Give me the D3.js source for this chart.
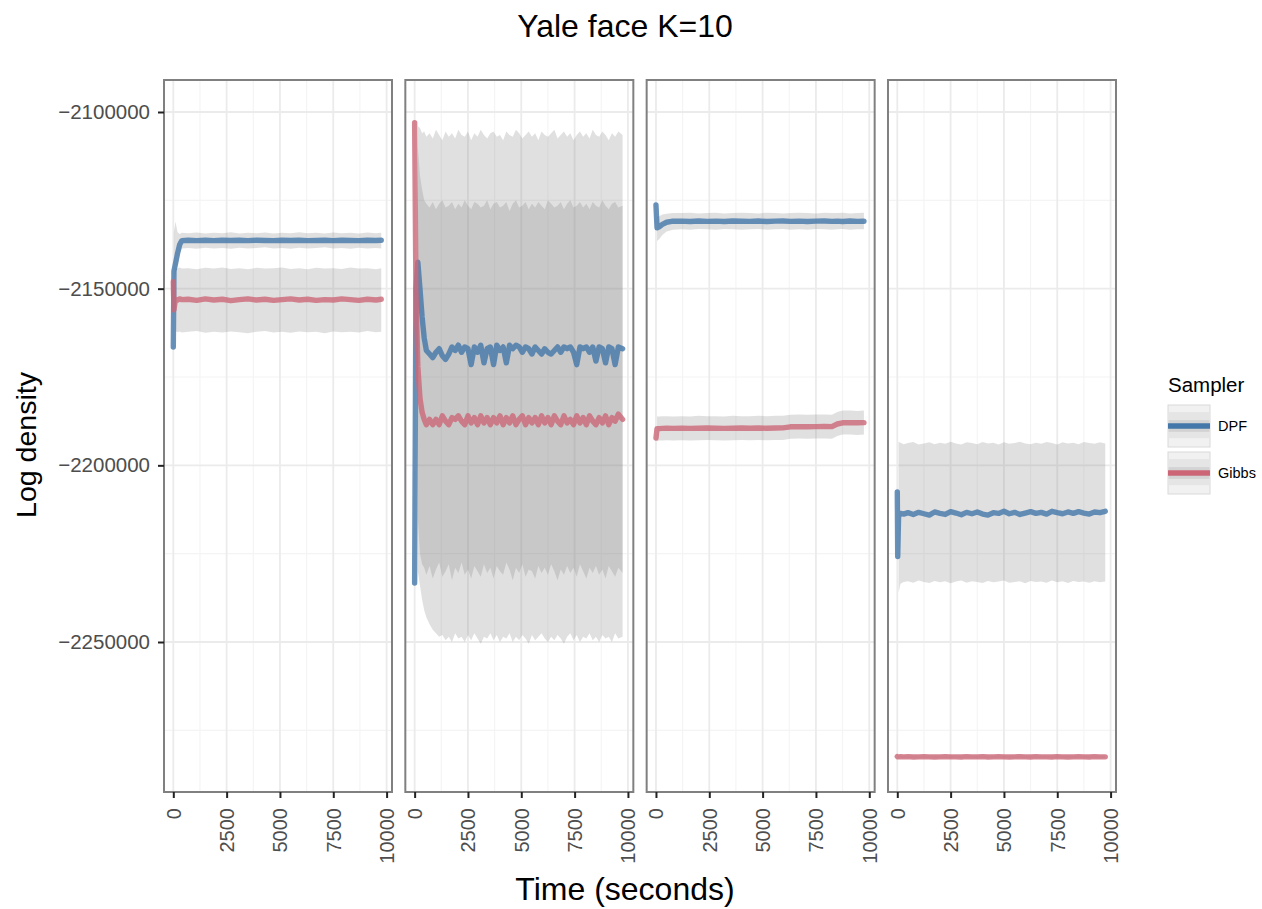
<!DOCTYPE html>
<html>
<head>
<meta charset="utf-8">
<script src="https://cdn.jsdelivr.net/npm/d3@7"></script>
<style>
  body { margin: 0; background: #fff; }
  svg { display: block; }
  text { font-family: "Liberation Sans", Arial, Helvetica, sans-serif; }
</style>
</head>
<body>
<svg id="chart" width="1262" height="909"></svg>
<script>
// ---------------- data ----------------
const samplers = ["DPF", "Gibbs"];
const samplerColors = ["#4477AA", "#CC6677"];

const xTicks = [0, 2500, 5000, 7500, 10000];
const xMinorTicks = [1250, 3750, 6250, 8750];
const yTicks = [-2100000, -2150000, -2200000, -2250000];
const yMinorTicks = [-2125000, -2175000, -2225000, -2275000];

// Panel 1
const time1 = [0, 30, 100, 200, 300, 400, 700, 1100, 1500, 1900, 2300, 2700, 3100, 3500, 3900, 4300, 4700, 5100, 5500, 5900, 6300, 6700, 7100, 7500, 7900, 8300, 8700, 9100, 9500, 9750];
const dpfMean1 = [-2166500, -2145000, -2143000, -2140000, -2137500, -2136400,
  -2136300, -2136400, -2136300, -2136400, -2136300, -2136350, -2136300, -2136400, -2136300, -2136350, -2136400, -2136300,
  -2136350, -2136300, -2136400, -2136350, -2136300, -2136400, -2136300, -2136350, -2136400, -2136300, -2136350, -2136300];
const dpfUpper1 = [null, -2134000, -2131000, -2134000, -2134500, -2134200,
  -2134300, -2134100, -2134400, -2134200, -2134300, -2134000, -2134400, -2134200, -2134300, -2134100, -2134400, -2134200,
  -2134300, -2134000, -2134300, -2134200, -2134400, -2134100, -2134300, -2134200, -2134400, -2134100, -2134300, -2134200];
const dpfLower1 = [null, -2149000, -2146000, -2143000, -2140000, -2138600,
  -2138500, -2138700, -2138400, -2138600, -2138500, -2138700, -2138400, -2138600, -2138500, -2138300, -2138600, -2138500,
  -2138700, -2138400, -2138600, -2138500, -2138300, -2138600, -2138500, -2138700, -2138400, -2138600, -2138500, -2138600];
const gibbsMean1 = [-2148000, -2156000, -2153000, -2153200, -2152900, -2153100,
  -2153000, -2153300, -2152900, -2153200, -2153000, -2153400, -2153100, -2152900, -2153200, -2153000, -2153300, -2153100,
  -2152900, -2153200, -2153000, -2153300, -2153100, -2153200, -2152900, -2153100, -2153300, -2153000, -2153200, -2153000];
const gibbsUpper1 = [null, null, -2144500, -2144200, -2144000, -2144300,
  -2144200, -2144500, -2144100, -2144300, -2144000, -2144400, -2144200, -2144500, -2144100, -2144300, -2144200, -2144000,
  -2144400, -2144200, -2144500, -2144100, -2144300, -2144200, -2144400, -2144000, -2144300, -2144200, -2144500, -2144200];
const gibbsLower1 = [null, null, -2162000, -2162300, -2162100, -2162400,
  -2162200, -2162000, -2162500, -2162200, -2162400, -2162100, -2162300, -2162600, -2162200, -2162000, -2162400, -2162200,
  -2162500, -2162100, -2162300, -2162200, -2162600, -2162100, -2162300, -2162200, -2162400, -2162000, -2162300, -2162200];

// Panel 2
const time2 = [0, 60, 150, 250, 350, 450, 550,
  700, 850, 1000, 1150, 1300, 1450, 1600, 1750, 1900, 2050, 2200, 2350, 2500, 2650, 2800, 2950, 3100, 3250, 3400, 3550,
  3700, 3850, 4000, 4150, 4300, 4450, 4600, 4750, 4900, 5050, 5200, 5350, 5500, 5650, 5800, 5950, 6100, 6250, 6400,
  6550, 6700, 6850, 7000, 7150, 7300, 7450, 7600, 7750, 7900, 8050, 8200, 8350, 8500, 8650, 8800, 8950, 9100, 9250,
  9400, 9550, 9750];
const dpfMean2 = [-2233300, -2150000, -2142500, -2150000, -2158000, -2164000, -2167500,
  -2168500, -2169500, -2168000, -2167000, -2169000, -2170000, -2168500, -2166500, -2167500, -2166000,
  -2168000, -2166500, -2167000, -2171500, -2166500, -2168000, -2166000, -2171000, -2167000, -2166500,
  -2171500, -2166000, -2167500, -2166500, -2171000, -2166000, -2167000, -2166000, -2166500, -2168000,
  -2166500, -2167000, -2168500, -2166500, -2167500, -2168500, -2167000, -2168000, -2168500, -2167500,
  -2166500, -2168000, -2166500, -2167000, -2166500, -2168000, -2171500, -2166500, -2167000, -2166500,
  -2168000, -2166500, -2170500, -2166500, -2167000, -2171000, -2166500, -2167000, -2171500, -2166500,
  -2167000];
const dpfUpper2 = [null, null, -2104000, -2104500, -2106000,
  -2105500, -2107000, -2106000, -2107500, -2105000, -2106500, -2108000, -2105500, -2107000, -2106000,
  -2107500, -2105000, -2106500, -2107000, -2105500, -2108000, -2106000, -2107000, -2105000, -2106500,
  -2107500, -2106000, -2105500, -2107000, -2106500, -2108000, -2105500, -2106500, -2107000, -2105000,
  -2106000, -2107500, -2106500, -2105500, -2107000, -2106000, -2108000, -2105500, -2106500, -2107000,
  -2106000, -2105000, -2107500, -2106500, -2105500, -2107000, -2106000, -2108000, -2106500, -2105500,
  -2107000, -2106000, -2107500, -2105000, -2106500, -2107000, -2105500, -2106500, -2108000, -2106000,
  -2107000, -2105500, -2106500];
const dpfLower2 = [null, null, -2215000, -2225000, -2228000,
  -2229000, -2231000, -2228500, -2232000, -2229500, -2227500, -2231500, -2230000, -2228000, -2232500,
  -2229000, -2230500, -2227500, -2231000, -2229500, -2232000, -2228500, -2230000, -2231500, -2228000,
  -2230500, -2229000, -2232000, -2228500, -2230000, -2231000, -2227500, -2229500, -2232500, -2229000,
  -2230500, -2228000, -2231500, -2229500, -2230000, -2232000, -2228500, -2230500, -2229000, -2231000,
  -2228000, -2230000, -2232500, -2229500, -2231000, -2228500, -2230500, -2229000, -2231500, -2228000,
  -2230000, -2232000, -2229000, -2230500, -2228500, -2231000, -2229500, -2232000, -2228500, -2230000,
  -2231500, -2229000, -2230500];
const gibbsMean2 = [-2103000, -2150000, -2172000, -2181000, -2185000, -2187000, -2188500,
  -2187000, -2188500, -2187000, -2188500, -2186000, -2187500, -2188500, -2186500, -2187000, -2186000,
  -2187500, -2188500, -2186000, -2188000, -2186500, -2188500, -2186000, -2188000, -2186500, -2188500,
  -2186500, -2188000, -2186000, -2188500, -2186500, -2188000, -2186000, -2188500, -2187000, -2186000,
  -2188500, -2186500, -2188000, -2186500, -2188500, -2186000, -2188000, -2186500, -2188500, -2186000,
  -2187500, -2188500, -2186000, -2188000, -2187000, -2188500, -2186000, -2188000, -2186500, -2188500,
  -2186000, -2187500, -2188500, -2186500, -2188000, -2186000, -2188500, -2186500, -2187500, -2185500,
  -2187000];
const gibbsUpper2 = [null, null, -2110000, -2118000, -2122000, -2125000,
  -2126000, -2127000, -2125500, -2127500, -2126000, -2125000, -2127000, -2126500, -2125500, -2127500,
  -2126000, -2127000, -2125000, -2126500, -2127500, -2125500, -2126000, -2127000, -2126500, -2125000,
  -2127500, -2126000, -2125500, -2127000, -2126500, -2125500, -2128000, -2126000, -2125000, -2127000,
  -2126500, -2125500, -2127500, -2126000, -2127000, -2125500, -2126500, -2127500, -2125000, -2126000,
  -2127000, -2126500, -2125500, -2127500, -2126000, -2125000, -2127000, -2126500, -2125500, -2127000,
  -2126000, -2127500, -2125500, -2126500, -2127000, -2125000, -2126500, -2127500, -2126000, -2125500,
  -2127000, -2126500];
const gibbsLower2 = [null, null, -2230000, -2234000, -2238000, -2241000, -2243000, -2245000, -2246500, -2247500, -2248500,
  -2248000, -2249500, -2248500, -2250000, -2247500, -2249000, -2248500, -2250000, -2248000, -2249500,
  -2247500, -2249000, -2250500, -2248500, -2249000, -2247500, -2249500, -2248000, -2250000, -2248500,
  -2249000, -2247500, -2250000, -2248500, -2249500, -2248000, -2249000, -2250500, -2248000, -2249500,
  -2248500, -2247500, -2249000, -2250000, -2248500, -2249500, -2248000, -2249000, -2250500, -2248500,
  -2247500, -2249500, -2248000, -2250000, -2248500, -2249000, -2247500, -2249500, -2248500, -2250000,
  -2248000, -2249000, -2248500, -2250000, -2247500, -2249000, -2248500];

// Panel 3
const time3 = [0, 50, 150, 300, 500, 800, 1200, 1600, 2000, 2400, 2800, 3200, 3600, 4000, 4400, 4800, 5200, 5600, 5950, 6300, 6700, 7100, 7500, 7900, 8250, 8500, 8750, 9100, 9450, 9750];
const dpfMean3 = [-2126300, -2132800, -2132500, -2131800, -2131200, -2130900,
  -2130900, -2131000, -2130850, -2130950, -2130900, -2131000, -2130850, -2130900, -2130950, -2130850, -2131000, -2130900,
  -2130850, -2130950, -2130900, -2131000, -2130900, -2130850, -2130950, -2130900, -2131000, -2130850, -2130950, -2130900];
const dpfUpper3 = [null, -2129500, -2129500, -2129000, -2128800, -2128600,
  -2128600, -2128500, -2128700, -2128600, -2128500, -2128700, -2128600, -2128500, -2128600, -2128700, -2128500, -2128600,
  -2128700, -2128600, -2128500, -2128600, -2128700, -2128500, -2128600, -2128600, -2128500, -2128700, -2128600, -2128500];
const dpfLower3 = [null, -2136500, -2136000, -2134800, -2133800, -2133300,
  -2133200, -2133300, -2133100, -2133200, -2133300, -2133100, -2133200, -2133300, -2133200, -2133100, -2133300, -2133200,
  -2133100, -2133300, -2133200, -2133300, -2133100, -2133200, -2133300, -2133200, -2133100, -2133300, -2133200, -2133200];
const gibbsMean3 = [-2192300, -2189600, -2189600, -2189550, -2189500, -2189550, -2189500, -2189550, -2189500, -2189450,
  -2189500, -2189550, -2189500, -2189450, -2189500, -2189450, -2189500, -2189450, -2189400, -2189100,
  -2189050, -2189100, -2189050, -2189000, -2189050, -2188300, -2187950, -2187900, -2187950, -2187900];
const gibbsUpper3 = [null, -2186200, -2186200, -2186100, -2186100, -2186200, -2186100, -2186200, -2186000, -2186100,
  -2186100, -2186200, -2186000, -2186100, -2186100, -2186000, -2186100, -2186000, -2186000, -2185700,
  -2185600, -2185700, -2185600, -2185600, -2185700, -2184900, -2184500, -2184500, -2184600, -2184500];
const gibbsLower3 = [null, -2193200, -2193000, -2193000, -2192900, -2193000, -2192900, -2193000, -2192900, -2192800,
  -2192900, -2193000, -2192900, -2192800, -2192900, -2192800, -2192900, -2192800, -2192800, -2192500,
  -2192400, -2192500, -2192400, -2192400, -2192500, -2191700, -2191300, -2191300, -2191400, -2191300];

// Panel 4
const time4 = [0, 20, 60, 150, 300, 500, 750, 1000, 1250, 1500, 1750, 2000, 2250, 2500, 2750, 3000, 3250, 3500, 3750,
  4000, 4250, 4500, 4750, 5000, 5250, 5500, 5750, 6000, 6250, 6500, 6750, 7000, 7250, 7500, 7750, 8000, 8250, 8500,
  8750, 9000, 9250, 9500, 9750];
const dpfMean4 = [-2207500, -2225800, -2214500, -2213600, -2213800,
  -2213400, -2213900, -2213300, -2213700, -2214100, -2213200, -2213600, -2213900, -2213100, -2213500,
  -2214000, -2213300, -2213700, -2213200, -2213800, -2214100, -2213400, -2213600, -2213000, -2213700,
  -2213300, -2213900, -2213500, -2213100, -2213600, -2213300, -2213800, -2213000, -2213400, -2213700,
  -2213200, -2213600, -2213100, -2213500, -2213800, -2213200, -2213400, -2213000];
const dpfUpper4 = [null, null, -2193300, -2193600, -2194000,
  -2193700, -2193400, -2194100, -2193800, -2193500, -2194000, -2193600, -2193900, -2193300, -2193800,
  -2194100, -2193500, -2193700, -2194000, -2193400, -2193800, -2193600, -2194100, -2193500, -2193900,
  -2193700, -2193300, -2193800, -2194000, -2193600, -2193900, -2193400, -2193700, -2194100, -2193500,
  -2193800, -2193600, -2194000, -2193400, -2193700, -2193900, -2193500, -2193800];
const dpfLower4 = [null, null, -2236000, -2233500, -2233000,
  -2232800, -2233200, -2232600, -2233000, -2233300, -2232700, -2233100, -2232800, -2233400, -2232900,
  -2232600, -2233200, -2232800, -2233000, -2233300, -2232700, -2233100, -2232900, -2232600, -2233200,
  -2233000, -2232800, -2233400, -2232700, -2233000, -2232900, -2233200, -2232600, -2233100, -2232800,
  -2233300, -2232700, -2233000, -2232900, -2233200, -2232800, -2233100, -2232900];
const gibbsMean4 = [-2282400, -2282500, -2282500, -2282450, -2282500,
  -2282450, -2282550, -2282500, -2282450, -2282500, -2282550, -2282500, -2282450, -2282500, -2282500,
  -2282550, -2282450, -2282500, -2282500, -2282450, -2282550, -2282500, -2282450, -2282500, -2282550,
  -2282500, -2282450, -2282500, -2282550, -2282450, -2282500, -2282500, -2282550, -2282450, -2282500,
  -2282550, -2282500, -2282450, -2282500, -2282550, -2282450, -2282500, -2282500];
const gibbsUpper4 = [null, -2282100, -2282100, -2282150, -2282100,
  -2282100, -2282150, -2282100, -2282050, -2282100, -2282150, -2282100, -2282050, -2282100, -2282100,
  -2282150, -2282050, -2282100, -2282100, -2282050, -2282150, -2282100, -2282050, -2282100, -2282150,
  -2282100, -2282050, -2282100, -2282150, -2282050, -2282100, -2282100, -2282150, -2282050, -2282100,
  -2282150, -2282100, -2282050, -2282100, -2282150, -2282050, -2282100, -2282100];
const gibbsLower4 = [null, -2282900, -2282900, -2282850, -2282900,
  -2282850, -2282950, -2282900, -2282850, -2282900, -2282950, -2282900, -2282850, -2282900, -2282900,
  -2282950, -2282850, -2282900, -2282900, -2282850, -2282950, -2282900, -2282850, -2282900, -2282950,
  -2282900, -2282850, -2282900, -2282950, -2282850, -2282900, -2282900, -2282950, -2282850, -2282900,
  -2282950, -2282900, -2282850, -2282900, -2282950, -2282850, -2282900, -2282900];

const panels = [
  { time: time1, series: [{ mean: dpfMean1, lower: dpfLower1, upper: dpfUpper1 }, { mean: gibbsMean1, lower: gibbsLower1, upper: gibbsUpper1 }] },
  { time: time2, series: [{ mean: dpfMean2, lower: dpfLower2, upper: dpfUpper2 }, { mean: gibbsMean2, lower: gibbsLower2, upper: gibbsUpper2 }] },
  { time: time3, series: [{ mean: dpfMean3, lower: dpfLower3, upper: dpfUpper3 }, { mean: gibbsMean3, lower: gibbsLower3, upper: gibbsUpper3 }] },
  { time: time4, series: [{ mean: dpfMean4, lower: dpfLower4, upper: dpfUpper4 }, { mean: gibbsMean4, lower: gibbsLower4, upper: gibbsUpper4 }] }
];

// ---------------- layout ----------------
const PANEL_LEFT = 164, PANEL_STEP = 241.33, PANEL_W = 228;
const PANEL_TOP = 80, PANEL_BOTTOM = 792;
const X_DOMAIN = [-436, 10253];
const Y_DOMAIN = [-2292450, -2090945];
const FONT_TICK = 20;
const LINE_W = 5.4;

const svg = d3.select("#chart");
const xScale = d3.scaleLinear().domain(X_DOMAIN).range([0, PANEL_W]);
const yScale = d3.scaleLinear().domain(Y_DOMAIN).range([PANEL_BOTTOM, PANEL_TOP]);

const area = d3.area()
  .defined(d => d.lo != null && d.hi != null)
  .x(d => xScale(d.t))
  .y0(d => yScale(d.lo))
  .y1(d => yScale(d.hi));
const line = d3.line()
  .x(d => xScale(d.t))
  .y(d => yScale(d.m));

panels.forEach((p, i) => {
  const g = svg.append("g").attr("transform", `translate(${PANEL_LEFT + i * PANEL_STEP},0)`);

  // grid
  g.selectAll(null).data(xMinorTicks).join("line")
    .attr("x1", d => xScale(d)).attr("x2", d => xScale(d))
    .attr("y1", PANEL_TOP).attr("y2", PANEL_BOTTOM)
    .attr("stroke", "#f4f4f4").attr("stroke-width", 1.1);
  g.selectAll(null).data(yMinorTicks).join("line")
    .attr("x1", 0).attr("x2", PANEL_W)
    .attr("y1", d => yScale(d)).attr("y2", d => yScale(d))
    .attr("stroke", "#f4f4f4").attr("stroke-width", 1.1);
  g.selectAll(null).data(xTicks).join("line")
    .attr("x1", d => xScale(d)).attr("x2", d => xScale(d))
    .attr("y1", PANEL_TOP).attr("y2", PANEL_BOTTOM)
    .attr("stroke", "#ebebeb").attr("stroke-width", 1.8);
  g.selectAll(null).data(yTicks).join("line")
    .attr("x1", 0).attr("x2", PANEL_W)
    .attr("y1", d => yScale(d)).attr("y2", d => yScale(d))
    .attr("stroke", "#ebebeb").attr("stroke-width", 1.8);

  const rowsOf = s => p.time.map((t, k) => ({ t, m: s.mean[k], lo: s.lower[k], hi: s.upper[k] }));

  // confidence ribbons
  p.series.forEach(s => {
    g.append("path").datum(rowsOf(s))
      .attr("d", area)
      .attr("fill", "#7f7f7f")
      .attr("fill-opacity", 0.24);
  });

  // sampler traces
  p.series.forEach((s, j) => {
    g.append("path").datum(rowsOf(s))
      .attr("d", line)
      .attr("fill", "none")
      .attr("stroke", samplerColors[j])
      .attr("stroke-opacity", 0.8)
      .attr("stroke-width", LINE_W)
      .attr("stroke-linejoin", "round")
      .attr("stroke-linecap", "round");
  });

  // panel border
  g.append("rect")
    .attr("x", 0).attr("y", PANEL_TOP)
    .attr("width", PANEL_W).attr("height", PANEL_BOTTOM - PANEL_TOP)
    .attr("fill", "none").attr("stroke", "#808080").attr("stroke-width", 2);

  // x axis
  const xAxis = g.append("g").attr("transform", `translate(0,${PANEL_BOTTOM})`)
    .call(d3.axisBottom(xScale).tickValues(xTicks).tickSize(6).tickFormat(d3.format("d")));
  xAxis.select(".domain").remove();
  xAxis.selectAll(".tick line").attr("stroke", "#222").attr("stroke-width", 2);
  xAxis.selectAll(".tick text")
    .attr("transform", "rotate(-90)")
    .attr("text-anchor", "end")
    .attr("x", -16).attr("y", 0).attr("dy", "0.35em")
    .attr("fill", "#4d4d4d")
    .style("font-size", FONT_TICK + "px")
    .style("font-family", "'Liberation Sans', Arial, sans-serif");
});

// y axis (left panel only)
const yAxis = svg.append("g").attr("transform", `translate(${PANEL_LEFT},0)`)
  .call(d3.axisLeft(yScale).tickValues(yTicks).tickSize(6).tickPadding(8).tickFormat(d3.format("d")));
yAxis.select(".domain").remove();
yAxis.selectAll(".tick line").attr("stroke", "#222").attr("stroke-width", 2);
yAxis.selectAll(".tick text")
  .attr("fill", "#4d4d4d")
  .style("font-size", "20.5px")
  .style("font-family", "'Liberation Sans', Arial, sans-serif");

// titles
svg.append("text").attr("x", 625).attr("y", 37).attr("text-anchor", "middle")
  .style("font-size", "32px").attr("fill", "#000").text("Yale face K=10");
svg.append("text").attr("x", 625).attr("y", 900).attr("text-anchor", "middle")
  .style("font-size", "32px").attr("fill", "#000").text("Time (seconds)");
svg.append("text").attr("transform", "translate(36,445) rotate(-90)").attr("text-anchor", "middle")
  .style("font-size", "28.5px").attr("fill", "#000").text("Log density");

// legend
const leg = svg.append("g").attr("transform", "translate(1168,0)");
leg.append("text").attr("x", 0).attr("y", 392).style("font-size", "20.5px").attr("fill", "#000").text("Sampler");
samplers.forEach((name, i) => {
  const y0 = 405 + i * 47, k = 42;
  const key = leg.append("g").attr("transform", `translate(0,${y0})`);
  key.append("rect").attr("width", k).attr("height", k).attr("fill", "#f1f1f1").attr("stroke", "#d9d9d9").attr("stroke-width", 1);
  key.append("rect").attr("x", 0.5).attr("y", k * 0.17).attr("width", k - 1).attr("height", k * 0.62).attr("fill", "#e5e5e5");
  key.append("rect").attr("x", 0.5).attr("y", k * 0.36).attr("width", k - 1).attr("height", k * 0.28).attr("fill", "#d3d3d3");
  key.append("line").attr("x1", 0).attr("x2", k).attr("y1", k / 2).attr("y2", k / 2)
    .attr("stroke", samplerColors[i]).attr("stroke-width", LINE_W);
  leg.append("text").attr("x", 50).attr("y", y0 + k / 2).attr("dy", "0.35em")
    .style("font-size", "14.5px").attr("fill", "#000").text(name);
});
</script>
</body>
</html>
